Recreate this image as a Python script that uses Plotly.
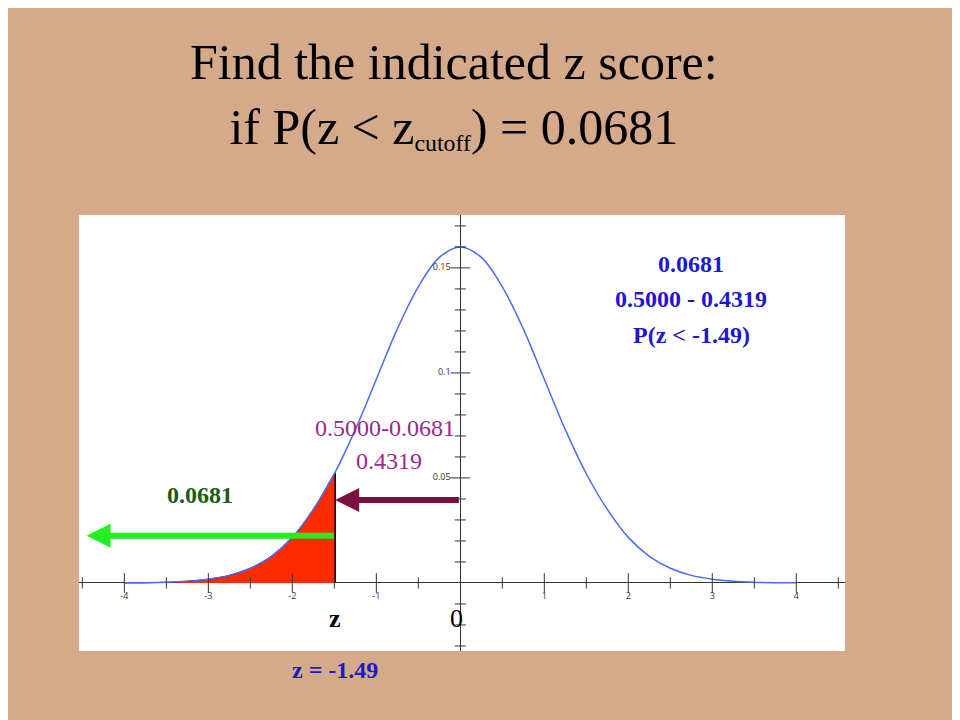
import plotly.graph_objects as go

# curve values (peak ~0.16 at 0)
x_vals = [-4, -3.75, -3.5, -3.25, -3, -2.75, -2.5, -2.25, -2, -1.75, -1.5, -1.25, -1, -0.75, -0.5, -0.25,
          0, 0.25, 0.5, 0.75, 1, 1.25, 1.5, 1.75, 2, 2.25, 2.5, 2.75, 3, 3.25, 3.5, 3.75, 4]
y_vals = [0.00005, 0.0001, 0.0003, 0.0008, 0.0018, 0.0036, 0.0070, 0.0127, 0.0217, 0.035, 0.052, 0.073,
          0.097, 0.121, 0.141, 0.155, 0.160, 0.155, 0.141, 0.121, 0.097, 0.073, 0.052, 0.035, 0.0217,
          0.0127, 0.0070, 0.0036, 0.0018, 0.0008, 0.0003, 0.0001, 0.00005]
fill_x = [-4, -3.75, -3.5, -3.25, -3, -2.75, -2.5, -2.25, -2, -1.75, -1.5, -1.49]
fill_y = [0.00005, 0.0001, 0.0003, 0.0008, 0.0018, 0.0036, 0.0070, 0.0127, 0.0217, 0.035, 0.052, 0.0525]
x_ticks = [-4, -3, -2, -1, 1, 2, 3, 4]
x_minor = [-4.5, -3.5, -2.5, -1.5, -0.5, 0.5, 1.5, 2.5, 3.5, 4.5]
y_labels = [0.05, 0.1, 0.15]
y_minor = [-0.03, -0.02, -0.01, 0.01, 0.02, 0.03, 0.04, 0.06, 0.07, 0.08, 0.09, 0.11, 0.12, 0.13, 0.14, 0.16, 0.17]
z_cut = -1.49

fig = go.Figure()
fig.add_trace(go.Scatter(x=fill_x, y=fill_y, fill="tozeroy", fillcolor="#ff2a00",
                         line=dict(color="black", width=1, shape="spline"), mode="lines"))
fig.add_trace(go.Scatter(x=[z_cut, z_cut], y=[0, fill_y[-1]], mode="lines",
                         line=dict(color="black", width=1.5)))
fig.add_trace(go.Scatter(x=x_vals, y=y_vals, mode="lines",
                         line=dict(color="#4a6cf0", width=1.5, shape="spline")))
# axis ticks drawn on the zero lines
fig.add_trace(go.Scatter(x=x_ticks, y=[0] * len(x_ticks), mode="markers+text",
                         marker=dict(symbol="line-ns", size=14, line=dict(width=1, color="#333")),
                         text=[str(v) for v in x_ticks], textposition="bottom center",
                         textfont=dict(size=9, color="#333")))
fig.add_trace(go.Scatter(x=x_minor, y=[0] * len(x_minor), mode="markers",
                         marker=dict(symbol="line-ns", size=8, line=dict(width=1, color="#333"))))
fig.add_trace(go.Scatter(x=[0] * len(y_minor), y=y_minor, mode="markers",
                         marker=dict(symbol="line-ew", size=8, line=dict(width=1, color="#333"))))
fig.add_trace(go.Scatter(x=[0] * len(y_labels), y=y_labels, mode="markers+text",
                         marker=dict(symbol="line-ew", size=14, line=dict(width=1, color="#333")),
                         text=[str(v) for v in y_labels], textposition="middle left",
                         textfont=dict(size=9, color="#333")))

serif = "Liberation Serif"
fig.add_annotation(x=-4.45, y=0.0225, ax=z_cut, ay=0.0225, axref="x", ayref="y", xref="x", yref="y",
                   text="", showarrow=True, arrowhead=2, arrowsize=0.8, arrowwidth=6, arrowcolor="#22ee22")
fig.add_annotation(x=z_cut, y=0.0395, ax=0, ay=0.0395, axref="x", ayref="y", xref="x", yref="y",
                   text="", showarrow=True, arrowhead=2, arrowsize=0.8, arrowwidth=6, arrowcolor="#7a1040")
fig.add_annotation(x=-3.1, y=0.042, text="<b>0.0681</b>", showarrow=False,
                   font=dict(family=serif, size=24, color="#1a5c1a"))
fig.add_annotation(x=-0.9, y=0.074, text="0.5000-0.0681", showarrow=False,
                   font=dict(family=serif, size=24, color="#9a2a8a"))
fig.add_annotation(x=-0.85, y=0.058, text="0.4319", showarrow=False,
                   font=dict(family=serif, size=24, color="#9a2a8a"))
for yy, t in [(0.152, "0.0681"), (0.135, "0.5000 - 0.4319"), (0.118, "P(z < -1.49)")]:
    fig.add_annotation(x=2.75, y=yy, text="<b>" + t + "</b>", showarrow=False,
                       font=dict(family=serif, size=24, color="#1a1ad0"))
fig.add_annotation(x=z_cut, y=-0.017, text="<b>z</b>", showarrow=False,
                   font=dict(family=serif, size=26, color="black"))
fig.add_annotation(x=-0.05, y=-0.017, text="0", showarrow=False,
                   font=dict(family=serif, size=26, color="black"))
fig.add_annotation(x=z_cut, xref="x", yref="paper", y=-0.01, yanchor="top",
                   text="<b>z = -1.49</b>", showarrow=False,
                   font=dict(family=serif, size=24, color="#1a1ad0"))
fig.add_annotation(xref="paper", yref="paper", x=0.49, y=1.13, yanchor="bottom", showarrow=False,
                   text="Find the indicated z score:<br>if P(z < z<span style='font-size:34px'><sub>cutoff</sub></span>) = 0.0681",
                   font=dict(family=serif, size=50, color="black"))

fig.update_layout(
    width=960, height=720, showlegend=False,
    paper_bgcolor="#d4aa8a", plot_bgcolor="white",
    margin=dict(l=71, r=123, t=207, b=77),
    xaxis=dict(range=[-4.54, 4.58], showgrid=False, showticklabels=False, ticks="",
               zeroline=True, zerolinecolor="#333", zerolinewidth=1),
    yaxis=dict(range=[-0.0324, 0.1752], showgrid=False, showticklabels=False, ticks="",
               zeroline=True, zerolinecolor="#333", zerolinewidth=1),
)
fig.write_html("out.html")
